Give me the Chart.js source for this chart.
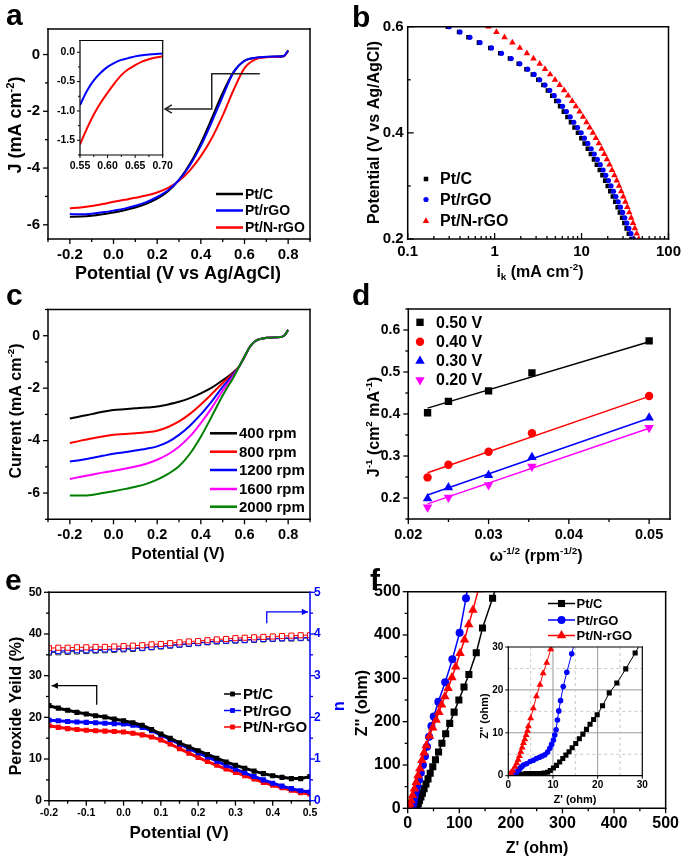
<!DOCTYPE html>
<html><head><meta charset="utf-8"><title>ORR performance of Pt/C, Pt/rGO and Pt/N-rGO</title>
<script src="https://cdn.jsdelivr.net/npm/chart.js@4.4.1/dist/chart.umd.min.js"></script>
<style>
html,body{margin:0;padding:0;background:#fff;}
#page{position:relative;width:685px;height:856px;overflow:hidden;background:#fff;}
#page canvas{position:absolute;left:0;top:0;}
</style></head><body>
<div id="page">
<canvas id="cA" width="685" height="856"></canvas>
<canvas id="cAin" width="685" height="856"></canvas>
<canvas id="cB" width="685" height="856"></canvas>
<canvas id="cC" width="685" height="856"></canvas>
<canvas id="cD" width="685" height="856"></canvas>
<canvas id="cE" width="685" height="856"></canvas>
<canvas id="cF" width="685" height="856"></canvas>
<canvas id="cFin" width="685" height="856"></canvas>
</div>
<script>
// ---------------- DATA ----------------
// (a) LSV curves
const aPotential = [-0.2,-0.15,-0.1,-0.05,0,0.05,0.1,0.15,0.2,0.25,0.3,0.35,0.4,0.45,0.5,0.55,0.6,0.65,0.7,0.75,0.78,0.8];
const aPtC    = [-5.72,-5.71,-5.68,-5.63,-5.57,-5.49,-5.39,-5.26,-5.08,-4.82,-4.42,-3.85,-3.12,-2.25,-1.35,-0.62,-0.22,-0.12,-0.09,-0.07,-0.05,0.12];
const aPtrGO  = [-5.62,-5.63,-5.61,-5.56,-5.50,-5.43,-5.33,-5.20,-5.02,-4.78,-4.42,-3.90,-3.22,-2.38,-1.48,-0.62,-0.22,-0.11,-0.08,-0.07,-0.05,0.15];
const aPtNrGO = [-5.42,-5.39,-5.34,-5.27,-5.19,-5.12,-5.05,-4.97,-4.86,-4.70,-4.45,-4.08,-3.58,-2.95,-2.15,-1.25,-0.48,-0.17,-0.10,-0.08,-0.06,0.15];
const aXTicks = [-0.2,0,0.2,0.4,0.6,0.8];
const aYTicks = [-6,-4,-2,0];
// (a) inset
const aInsetPotential = [0.55,0.5625,0.575,0.5875,0.6,0.6125,0.625,0.6375,0.65,0.6625,0.675,0.6875,0.70];
const aInsetPtrGO  = [-0.90,-0.66,-0.48,-0.35,-0.25,-0.18,-0.13,-0.10,-0.07,-0.05,-0.04,-0.03,-0.02];
const aInsetPtNrGO = [-1.57,-1.30,-1.06,-0.86,-0.69,-0.53,-0.39,-0.29,-0.22,-0.16,-0.12,-0.09,-0.07];
const aInsetXTicks = [0.55,0.60,0.65,0.70];
const aInsetYTicks = [-1.5,-1.0,-0.5,0];
// (b) Tafel-type plot
const bPotential = [0.60,0.59,0.58,0.57,0.56,0.55,0.54,0.53,0.52,0.51,0.50,0.49,0.48,0.47,0.46,0.45,0.44,0.43,0.42,0.41,0.40,0.39,0.38,0.37,0.36,0.35,0.34,0.33,0.32,0.31,0.30,0.29,0.28,0.27,0.26,0.25,0.24,0.23,0.22,0.21,0.20];
const bPtC    = [0.29,0.39,0.50,0.66,0.89,1.16,1.50,1.89,2.32,2.75,3.18,3.64,4.10,4.60,5.12,5.66,6.25,6.88,7.55,8.3,9.1,9.95,10.85,11.8,12.8,13.9,15.0,16.2,17.4,18.7,20.0,21.4,22.9,24.4,26.0,27.6,29.3,31.1,33.0,35.0,37.5];
const bPtrGO  = [0.30,0.40,0.52,0.68,0.92,1.20,1.55,1.95,2.40,2.85,3.30,3.80,4.30,4.85,5.45,6.05,6.70,7.40,8.15,9.0,9.9,10.8,11.8,12.9,14.0,15.2,16.4,17.7,19.0,20.4,21.8,23.3,24.8,26.4,28.0,29.7,31.4,33.2,35.0,37.0,39.5];
const bPtNrGO = [0.85,1.05,1.30,1.60,1.95,2.35,2.80,3.30,3.80,4.35,4.95,5.6,6.3,7.0,7.8,8.6,9.5,10.4,11.4,12.4,13.5,14.6,15.8,17.0,18.3,19.6,21.0,22.4,23.9,25.4,27.0,28.6,30.2,31.9,33.6,35.4,37.2,39.1,41.0,43.1,45.5];
const bXTicks = [0.1,1,10,100];
const bYTicks = [0.2,0.4,0.6];
// (c) RDE curves
const cPotential = [-0.2,-0.15,-0.1,-0.05,0,0.05,0.1,0.15,0.2,0.25,0.3,0.35,0.4,0.45,0.5,0.55,0.575,0.6,0.625,0.65,0.7,0.75,0.78,0.8];
const c400  = [-3.16,-3.07,-2.99,-2.90,-2.83,-2.80,-2.77,-2.74,-2.70,-2.62,-2.52,-2.38,-2.20,-1.98,-1.70,-1.38,-1.18,-0.80,-0.42,-0.20,-0.08,-0.06,-0.01,0.22];
const c800  = [-4.09,-4.00,-3.92,-3.84,-3.78,-3.75,-3.72,-3.68,-3.62,-3.48,-3.27,-2.98,-2.62,-2.22,-1.80,-1.42,-1.18,-0.80,-0.42,-0.20,-0.08,-0.06,-0.01,0.22];
const c1200 = [-4.80,-4.74,-4.66,-4.58,-4.50,-4.44,-4.38,-4.31,-4.22,-4.05,-3.78,-3.43,-3.00,-2.50,-1.95,-1.46,-1.18,-0.80,-0.42,-0.20,-0.08,-0.06,-0.01,0.22];
const c1600 = [-5.46,-5.38,-5.30,-5.22,-5.15,-5.07,-4.99,-4.88,-4.73,-4.52,-4.23,-3.84,-3.33,-2.75,-2.10,-1.52,-1.18,-0.80,-0.42,-0.20,-0.08,-0.06,-0.01,0.22];
const c2000 = [-6.09,-6.09,-6.07,-6.00,-5.93,-5.85,-5.76,-5.65,-5.49,-5.27,-4.98,-4.50,-3.85,-3.08,-2.28,-1.58,-1.18,-0.80,-0.42,-0.20,-0.08,-0.06,-0.01,0.22];
const cXTicks = [-0.2,0,0.2,0.4,0.6,0.8];
const cYTicks = [-6,-4,-2,0];
// (d) Koutecky-Levich
const dOmega = [0.0224,0.0250,0.0300,0.0354,0.0500];
const d050 = [0.403,0.430,0.455,0.498,0.574];
const d040 = [0.249,0.279,0.310,0.354,0.443];
const d030 = [0.199,0.225,0.254,0.297,0.391];
const d020 = [0.178,0.201,0.231,0.275,0.367];
const dFitOmega = [0.0224,0.0500];
const dFit050 = [0.414,0.572];
const dFit040 = [0.260,0.442];
const dFit030 = [0.207,0.390];
const dFit020 = [0.186,0.366];
const dXTicks = [0.02,0.03,0.04,0.05];
const dYTicks = [0.2,0.3,0.4,0.5,0.6];
// (e) RRDE: peroxide yield and electron number
const ePotential = [-0.2,-0.175,-0.15,-0.125,-0.1,-0.075,-0.05,-0.025,0,0.025,0.05,0.075,0.1,0.125,0.15,0.175,0.2,0.225,0.25,0.275,0.3,0.325,0.35,0.375,0.4,0.425,0.45,0.475,0.5];
const ePeroxPtC    = [22.8,22.2,21.7,21.2,20.8,20.4,20.1,19.6,19.2,18.7,18.1,17.1,16.0,15.0,13.9,12.9,12.0,11.1,10.2,9.3,8.5,7.8,7.1,6.5,6.0,5.6,5.3,5.3,5.8];
const ePeroxPtrGO  = [19.3,19.2,19.0,18.9,18.8,18.7,18.6,18.5,18.4,18.1,17.6,16.8,15.8,14.7,13.6,12.5,11.5,10.5,9.5,8.5,7.6,6.7,5.8,5.0,4.2,3.5,2.9,2.4,2.1];
const ePeroxPtNrGO = [18.0,17.6,17.3,17.1,16.9,16.8,16.7,16.6,16.5,16.2,15.8,15.3,14.6,13.6,12.5,11.4,10.4,9.4,8.5,7.6,6.8,6.0,5.2,4.4,3.7,3.1,2.5,1.9,1.6];
const eNPtC    = [3.55,3.56,3.57,3.58,3.59,3.60,3.61,3.62,3.63,3.64,3.66,3.68,3.70,3.72,3.74,3.76,3.78,3.80,3.82,3.83,3.84,3.85,3.86,3.87,3.88,3.89,3.89,3.90,3.90];
const eNPtrGO  = [3.58,3.59,3.60,3.61,3.61,3.62,3.63,3.64,3.65,3.66,3.67,3.69,3.71,3.73,3.75,3.77,3.79,3.81,3.83,3.84,3.85,3.86,3.87,3.88,3.89,3.90,3.91,3.91,3.92];
const eNPtNrGO = [3.66,3.67,3.67,3.68,3.68,3.69,3.69,3.70,3.71,3.72,3.73,3.75,3.76,3.78,3.80,3.82,3.83,3.85,3.87,3.88,3.90,3.91,3.92,3.93,3.94,3.95,3.96,3.97,3.97];
const eXTicks = [-0.2,-0.1,0,0.1,0.2,0.3,0.4,0.5];
const eYTicks = [0,10,20,30,40,50];
const eY2Ticks = [0,1,2,3,4,5];
// (f) Nyquist plots
const fPtCRe = [17,18.6,20.6,22.9,25.6,28.5,31.8,35.4,39.4,43.6,48.6,53.8,59.8,66.3,73.6,81.5,90.0,99.2,109.1,118.6,132.9,145,164.5,172.5];
const fPtCIm = [0,5,11,18,26,35,45,56,68,81,96,112,130,150,172,196,222,250,280,309,359,416,485,515];
const fPtrGORe = [6,8,9.5,10.5,11.5,12.6,14,16,19,22,25.5,29.5,33.5,37.5,41.5,46,50.5,59.4,72.7,86.6,100.6,113,117];
const fPtrGOIm = [0,3,6,10,15,22,30,40,52,66,82,100,120,142,165,190,212,246,291,344,405,485,515];
const fPtNrGORe = [1,2.5,4,6.5,9.5,13,16.5,20,23.5,27.5,31.5,36,42.3,48.5,55.1,60.5,65.7,72,78.4,85.7,93,101.5,110.1,118.3,126.5,137];
const fPtNrGOIm = [0,5,10,18,30,45,60,76,92,111,128,145,167,186,204,222,239,258,277,302,327,358,389,424,458,505];
const fTicks = [0,100,200,300,400,500];
// (f) inset
const fInPtCRe = [2,3,4,5,6,7,8,8.8,9.4,10.1,10.8,11.5,12.2,12.9,13.6,14.3,15.1,15.9,16.7,17.5,18.3,19.1,19.9,21.1,22.6,24.3,26.3,28.4,29.5];
const fInPtCIm = [0.3,0.4,0.5,0.5,0.5,0.5,0.6,0.8,1.2,1.8,2.4,3.2,4.0,4.8,5.6,6.5,7.5,8.6,9.7,10.8,12.0,13.1,14.2,16.3,19.3,21.6,24.9,28.6,30.6];
const fInPtrGORe = [0.5,1.1,1.5,1.9,2.3,2.6,3.0,3.4,4.1,4.9,5.6,6.3,7.0,7.6,8.2,8.8,9.3,9.7,10.1,10.4,10.7,11.0,11.3,11.7,12.3,13.1,14.2,14.8];
const fInPtrGOIm = [0.2,0.4,0.7,0.9,1.3,1.7,2.1,2.5,2.8,3.3,3.6,4.0,4.3,4.6,4.9,5.5,6.4,7.3,8.3,9.5,10.7,13.0,15.1,17.5,20.8,24.1,28.4,31.0];
const fInPtNrGORe = [0.2,0.6,1.0,1.5,1.9,2.2,2.5,2.8,3.1,3.4,3.7,4.0,4.3,4.5,5.0,5.6,6.3,7.1,7.8,8.6,9.5,9.9];
const fInPtNrGOIm = [0.3,0.7,1.2,2.1,2.9,3.7,4.6,5.6,6.6,7.6,8.5,9.5,10.5,11.5,13.4,15.7,18.5,21.2,23.9,26.3,29.5,31.0];
const fInTicks = [0,10,20,30];

// ---------------- HELPERS ----------------
const W = 685, H = 856, AX_W = 40, AX_H = 30;
const FONT = "'Liberation Sans', Arial, Helvetica, sans-serif";
const BLACK = '#000000', BLUE = '#0000ff', RED = '#ff0000', MAGENTA = '#ff00ff', GREEN = '#008000';
const fmt = d => v => Number(v).toFixed(d);
const fmtInt = v => String(v);

function ds(label, xs, ys, o) {
  const c = o.color;
  const base = {
    label, data: xs.map((x, i) => ({x, y: ys[i]})),
    showLine: true, borderColor: c, backgroundColor: c, borderWidth: 2,
    pointRadius: 0, pointStyle: 'circle', pointRotation: 0,
    pointBackgroundColor: c, pointBorderColor: c, pointBorderWidth: 0
  };
  const r = Object.assign(base, o); delete r.color; return r;
}

function marker(ctx, style, x, y, r, rot, fill, stroke, lw) {
  ctx.save(); ctx.beginPath();
  if (style === 'rect') { const h = r * Math.SQRT1_2; ctx.rect(x - h, y - h, 2 * h, 2 * h); }
  else if (style === 'triangle') {
    let ang = (rot || 0) * Math.PI / 180;
    ctx.moveTo(x + Math.sin(ang) * r, y - Math.cos(ang) * r);
    ang += 2 * Math.PI / 3; ctx.lineTo(x + Math.sin(ang) * r, y - Math.cos(ang) * r);
    ang += 2 * Math.PI / 3; ctx.lineTo(x + Math.sin(ang) * r, y - Math.cos(ang) * r);
    ctx.closePath();
  } else ctx.arc(x, y, r, 0, Math.PI * 2);
  if (fill) { ctx.fillStyle = fill; ctx.fill(); }
  if (stroke && lw) { ctx.strokeStyle = stroke; ctx.lineWidth = lw; ctx.stroke(); }
  ctx.restore();
}

function drawRich(ctx, t) {
  const size = t.size, wt = t.weight || 'bold';
  let total = 0;
  const segs = t.parts.map(p => {
    const mode = p[1] || 0, fs = mode ? size * 0.62 : size;
    ctx.font = wt + ' ' + fs + 'px ' + FONT;
    const w = ctx.measureText(p[0]).width; total += w;
    return {text: p[0], mode, fs, w};
  });
  ctx.save();
  ctx.translate(t.x, t.y);
  if (t.rot) ctx.rotate(t.rot * Math.PI / 180);
  ctx.fillStyle = t.color || '#000';
  ctx.textAlign = 'left'; ctx.textBaseline = 'alphabetic';
  let cx = t.baseline ? 0 : -total / 2;
  const base = t.baseline ? 0 : size * 0.36;
  segs.forEach(s => {
    ctx.font = wt + ' ' + s.fs + 'px ' + FONT;
    const dy = s.mode === 1 ? -size * 0.4 : (s.mode === -1 ? size * 0.22 : 0);
    ctx.fillText(s.text, cx, base + dy);
    cx += s.w;
  });
  ctx.restore();
}

function minorValues(s, majors, n, log) {
  const out = [];
  const lo = Math.min(s.min, s.max), hi = Math.max(s.min, s.max);
  if (log) {
    for (let e = Math.floor(Math.log10(lo)); e <= Math.ceil(Math.log10(hi)); e++)
      for (let k = 2; k <= 9; k++) { const v = k * Math.pow(10, e); if (v > lo && v < hi) out.push(v); }
    return out;
  }
  if (!n || majors.length < 2) return out;
  const step = (majors[1] - majors[0]) / (n + 1);
  for (let i = -400; i <= 400; i++) {
    const v = majors[0] + i * step;
    if (v < lo - step * 1e-6 || v > hi + step * 1e-6) continue;
    if (i % (n + 1) === 0) continue;
    out.push(v);
  }
  return out;
}

const originPlugin = {
  id: 'origin',
  beforeDatasetsDraw(chart, args, o) {
    const ctx = chart.ctx, a = chart.chartArea;
    ctx.save();
    if (o.bg) { ctx.fillStyle = o.bg; ctx.fillRect(a.left, a.top, a.right - a.left, a.bottom - a.top); }
    (o.grid || []).forEach(g => {
      const s = chart.scales[g.axis];
      ctx.strokeStyle = g.color; ctx.lineWidth = g.width || 1; ctx.setLineDash(g.dash || []);
      g.values.forEach(v => {
        const p = s.getPixelForValue(v);
        ctx.beginPath();
        if (s.isHorizontal()) { ctx.moveTo(p, a.top); ctx.lineTo(p, a.bottom); }
        else { ctx.moveTo(a.left, p); ctx.lineTo(a.right, p); }
        ctx.stroke();
      });
    });
    ctx.restore();
  },
  afterDatasetsDraw(chart, args, o) {
    const ctx = chart.ctx, a = chart.chartArea;
    ctx.save();
    ctx.setLineDash([]);
    if (o.frame) {
      const f = o.frame;
      ctx.lineWidth = f.width || 1.5; ctx.lineCap = 'square';
      const seg = (x1, y1, x2, y2, c) => { ctx.strokeStyle = c; ctx.beginPath(); ctx.moveTo(x1, y1); ctx.lineTo(x2, y2); ctx.stroke(); };
      seg(a.left, a.top, a.right, a.top, f.top || f.color);
      seg(a.left, a.bottom, a.right, a.bottom, f.color);
      seg(a.left, a.top, a.left, a.bottom, f.color);
      seg(a.right, a.top, a.right, a.bottom, f.right || f.color);
    }
    ctx.lineCap = 'butt';
    (o.axes || []).forEach(ax => {
      const s = chart.scales[ax.id];
      const majors = s.ticks.map(t => t.value);
      const out = ax.dir === 'in' ? -1 : 1;
      ctx.strokeStyle = ax.color || '#000'; ctx.lineWidth = ax.lw || 1.3;
      const tick = (v, len) => {
        const p = s.getPixelForValue(v);
        ctx.beginPath();
        if (ax.side === 'bottom') { ctx.moveTo(p, a.bottom); ctx.lineTo(p, a.bottom + out * len); }
        else if (ax.side === 'left') { ctx.moveTo(a.left, p); ctx.lineTo(a.left - out * len, p); }
        else { ctx.moveTo(a.right, p); ctx.lineTo(a.right + out * len, p); }
        ctx.stroke();
      };
      majors.forEach(v => tick(v, ax.len || 5));
      minorValues(s, majors, ax.minor, ax.log).forEach(v => tick(v, ax.mlen || 3));
    });
    (o.arrows || []).forEach(ar => {
      const sx = chart.scales[ar.xAxis || 'x'], sy = chart.scales[ar.yAxis || 'y'];
      const pts = ar.pts.map(p => [sx.getPixelForValue(p[0]), sy.getPixelForValue(p[1])]);
      ctx.strokeStyle = ar.color; ctx.fillStyle = ar.color; ctx.lineWidth = ar.width || 1.5;
      ctx.beginPath(); pts.forEach((p, i) => i ? ctx.lineTo(p[0], p[1]) : ctx.moveTo(p[0], p[1])); ctx.stroke();
      const [x2, y2] = pts[pts.length - 1], [x1, y1] = pts[pts.length - 2];
      const ang = Math.atan2(y2 - y1, x2 - x1), L = ar.head || 8, sp = ar.spread || 0.5;
      ctx.beginPath();
      ctx.moveTo(x2 - L * Math.cos(ang - sp), y2 - L * Math.sin(ang - sp));
      ctx.lineTo(x2, y2);
      ctx.lineTo(x2 - L * Math.cos(ang + sp), y2 - L * Math.sin(ang + sp));
      if (ar.filled) { ctx.closePath(); ctx.fill(); } else ctx.stroke();
    });
    if (o.legend) {
      const L = o.legend;
      L.items.forEach((idx, i) => {
        const d = chart.data.datasets[idx], y = L.ys[i];
        if (L.line) {
          ctx.strokeStyle = d.borderColor; ctx.lineWidth = L.lw || d.borderWidth;
          ctx.beginPath(); ctx.moveTo(L.line[0], y); ctx.lineTo(L.line[1], y); ctx.stroke();
        }
        if (L.markerX != null) marker(ctx, d.pointStyle, L.markerX, y, L.mr || d.pointRadius, d.pointRotation, d.pointBackgroundColor, d.pointBorderColor, d.pointBorderWidth);
        ctx.fillStyle = '#000';
        ctx.font = (L.weight || 'bold') + ' ' + L.size + 'px ' + FONT;
        ctx.textAlign = 'left'; ctx.textBaseline = 'middle';
        ctx.fillText(d.label, L.textX, y + 1);
      });
    }
    (o.texts || []).forEach(t => drawRich(ctx, t));
    ctx.restore();
  }
};

function axisCfg(a, pos) {
  return {
    type: a.type || 'linear', position: pos, min: a.min, max: a.max,
    afterFit: s => { if (pos === 'bottom') s.height = AX_H; else s.width = AX_W; },
    afterBuildTicks: s => { s.ticks = a.ticks.map(v => ({value: v})); },
    grid: {display: false, drawTicks: false},
    border: {display: false},
    ticks: {
      autoSkip: false, maxRotation: 0, minRotation: 0, padding: a.pad,
      color: a.color || '#000', font: {family: FONT, size: a.fs, weight: 'bold'},
      callback: a.fmt
    }
  };
}

function build(id, spec) {
  const scales = {x: axisCfg(spec.x, 'bottom'), y: axisCfg(spec.y, 'left')};
  if (spec.y2) scales.y2 = axisCfg(spec.y2, 'right');
  // first dataset in the list is painted first (bottom), last one on top
  spec.datasets.forEach((d, i, arr) => { d.order = arr.length - i; });
  const A = spec.area;
  return new Chart(document.getElementById(id), {
    type: 'scatter',
    data: {datasets: spec.datasets},
    options: {
      responsive: false, maintainAspectRatio: false, animation: false, devicePixelRatio: 1, events: [],
      layout: {autoPadding: false, padding: {left: A.l - AX_W, top: A.t, right: W - A.r - (spec.y2 ? AX_W : 0), bottom: H - A.b - AX_H}},
      scales,
      plugins: {legend: {display: false}, tooltip: {enabled: false}, title: {display: false}, origin: spec.origin}
    },
    plugins: [originPlugin]
  });
}

const smooth = {cubicInterpolationMode: 'monotone'};

// ---------------- (a) ----------------
build('cA', {
  area: {l: 48, t: 29, r: 310, b: 239},
  x: {min: -0.3, max: 0.9, ticks: aXTicks, fs: 15, pad: 7, fmt: fmt(1)},
  y: {min: -6.5, max: 0.9, ticks: aYTicks, fs: 15, pad: 8, fmt: fmtInt},
  datasets: [
    ds('Pt/C', aPotential, aPtC, Object.assign({color: BLACK}, smooth)),
    ds('Pt/N-rGO', aPotential, aPtNrGO, Object.assign({color: RED}, smooth)),
    ds('Pt/rGO', aPotential, aPtrGO, Object.assign({color: BLUE}, smooth))
  ],
  origin: {
    frame: {color: BLACK, width: 1.5},
    axes: [{id: 'x', side: 'bottom', minor: 1}, {id: 'y', side: 'left', minor: 1}],
    legend: {items: [0, 2, 1], ys: [194, 210.5, 227.5], line: [216, 243], lw: 2.5, textX: 245, size: 14},
    arrows: [{pts: [[0.67, -0.68], [0.45, -0.68], [0.45, -1.92], [0.236, -1.92]], color: '#222', width: 1.5, head: 8, spread: 0.55}],
    texts: [
      {parts: [['a']], x: 6, y: 25, size: 30, baseline: true},
      {parts: [['Potential (V vs Ag/AgCl)']], x: 178, y: 273, size: 18},
      {parts: [['J (mA cm'], ['-2', 1], [')']], x: 15, y: 125, size: 18, rot: -90}
    ]
  }
});
build('cAin', {
  area: {l: 80, t: 40.5, r: 162.7, b: 155},
  x: {min: 0.55, max: 0.70, ticks: aInsetXTicks, fs: 10.5, pad: 5, fmt: fmt(2)},
  y: {min: -1.75, max: 0.2, ticks: aInsetYTicks, fs: 10.5, pad: 5, fmt: fmt(1)},
  datasets: [
    ds('Pt/N-rGO', aInsetPotential, aInsetPtNrGO, Object.assign({color: RED}, smooth)),
    ds('Pt/rGO', aInsetPotential, aInsetPtrGO, Object.assign({color: BLUE}, smooth))
  ],
  origin: {
    bg: '#ffffff',
    frame: {color: BLACK, width: 1.2},
    axes: [{id: 'x', side: 'bottom', minor: 1, len: 3, mlen: 2, lw: 1}, {id: 'y', side: 'left', minor: 1, len: 3, mlen: 2, lw: 1}]
  }
});

// ---------------- (b) ----------------
build('cB', {
  area: {l: 407.7, t: 26.7, r: 671.7, b: 239},
  x: {type: 'logarithmic', min: 0.1, max: 100, ticks: bXTicks, fs: 15, pad: 4, fmt: fmtInt},
  y: {min: 0.2, max: 0.6, ticks: bYTicks, fs: 15, pad: 4, fmt: fmt(1)},
  datasets: [
    ds('Pt/C', bPtC, bPotential, {color: BLACK, showLine: false, pointStyle: 'rect', pointRadius: 3.2}),
    ds('Pt/rGO', bPtrGO, bPotential, {color: BLUE, showLine: false, pointStyle: 'circle', pointRadius: 2.6}),
    ds('Pt/N-rGO', bPtNrGO, bPotential, {color: RED, showLine: false, pointStyle: 'triangle', pointRadius: 3.8})
  ],
  origin: {
    frame: {color: BLACK, width: 1.5},
    axes: [{id: 'x', side: 'bottom', log: true, dir: 'in', len: 6, mlen: 3}, {id: 'y', side: 'left', minor: 1, dir: 'in', len: 6, mlen: 3}],
    legend: {items: [0, 1, 2], ys: [179, 199.5, 221], markerX: 426, textX: 440, size: 16},
    texts: [
      {parts: [['b']], x: 352, y: 27, size: 30, baseline: true},
      {parts: [['Potential (V vs Ag/AgCl)']], x: 373, y: 132.5, size: 16, rot: -90},
      {parts: [['i'], ['k', -1], [' (mA cm'], ['-2', 1], [')']], x: 540, y: 271, size: 16}
    ]
  }
});

// ---------------- (c) ----------------
build('cC', {
  area: {l: 48, t: 309.5, r: 310, b: 519.3},
  x: {min: -0.3, max: 0.9, ticks: cXTicks, fs: 14.5, pad: 7, fmt: fmt(1)},
  y: {min: -7, max: 1, ticks: cYTicks, fs: 14, pad: 8, fmt: fmtInt},
  datasets: [
    ds('400 rpm', cPotential, c400, Object.assign({color: BLACK}, smooth)),
    ds('800 rpm', cPotential, c800, Object.assign({color: RED}, smooth)),
    ds('1200 rpm', cPotential, c1200, Object.assign({color: BLUE}, smooth)),
    ds('1600 rpm', cPotential, c1600, Object.assign({color: MAGENTA}, smooth)),
    ds('2000 rpm', cPotential, c2000, Object.assign({color: GREEN}, smooth))
  ],
  origin: {
    frame: {color: BLACK, width: 1.5},
    axes: [{id: 'x', side: 'bottom', minor: 1}, {id: 'y', side: 'left', minor: 1}],
    legend: {items: [0, 1, 2, 3, 4], ys: [433.3, 451.7, 470, 489, 506.7], line: [210, 237], lw: 2.5, textX: 239, size: 15},
    texts: [
      {parts: [['c']], x: 6, y: 305, size: 30, baseline: true},
      {parts: [['Potential (V)']], x: 178, y: 553, size: 16},
      {parts: [['Current (mA cm'], ['-2', 1], [')']], x: 15, y: 411, size: 16, rot: -90}
    ]
  }
});

// ---------------- (d) ----------------
build('cD', {
  area: {l: 408.3, t: 309, r: 670, b: 519},
  x: {min: 0.02, max: 0.0526, ticks: dXTicks, fs: 14.5, pad: 7, fmt: fmt(2)},
  y: {min: 0.15, max: 0.65, ticks: dYTicks, fs: 14, pad: 8, fmt: fmt(1)},
  datasets: [
    ds('0.50 V fit', dFitOmega, dFit050, {color: BLACK, borderWidth: 1.5}),
    ds('0.40 V fit', dFitOmega, dFit040, {color: RED, borderWidth: 1.5}),
    ds('0.30 V fit', dFitOmega, dFit030, {color: BLUE, borderWidth: 1.5}),
    ds('0.20 V fit', dFitOmega, dFit020, {color: MAGENTA, borderWidth: 1.5}),
    ds('0.50 V', dOmega, d050, {color: BLACK, showLine: false, pointStyle: 'rect', pointRadius: 5.2}),
    ds('0.40 V', dOmega, d040, {color: RED, showLine: false, pointStyle: 'circle', pointRadius: 4.2}),
    ds('0.30 V', dOmega, d030, {color: BLUE, showLine: false, pointStyle: 'triangle', pointRadius: 5.5}),
    ds('0.20 V', dOmega, d020, {color: MAGENTA, showLine: false, pointStyle: 'triangle', pointRotation: 180, pointRadius: 5.5})
  ],
  origin: {
    frame: {color: BLACK, width: 1.5},
    axes: [{id: 'x', side: 'bottom', minor: 1}, {id: 'y', side: 'left', minor: 1}],
    legend: {items: [4, 5, 6, 7], ys: [322.3, 341.7, 361, 380], markerX: 420, textX: 436, size: 16},
    texts: [
      {parts: [['d']], x: 352, y: 305, size: 30, baseline: true},
      {parts: [['\u03c9'], ['-1/2', 1], [' (rpm'], ['-1/2', 1], [')']], x: 536, y: 555, size: 16},
      {parts: [['J'], ['-1', 1], [' (cm'], ['2', 1], [' mA'], ['-1', 1], [')']], x: 373, y: 427, size: 16, rot: -90}
    ]
  }
});

// ---------------- (e) ----------------
const peroxOpt = c => ({color: c, borderWidth: 3, pointStyle: 'rect', pointRadius: 3.6});
const nOpt = c => ({color: c, borderWidth: 1, pointStyle: 'rect', pointRadius: 3.6, pointBackgroundColor: '#ffffff', pointBorderWidth: 1, yAxisID: 'y2'});
build('cE', {
  area: {l: 49, t: 592.3, r: 310, b: 800.7},
  x: {min: -0.2, max: 0.5, ticks: eXTicks, fs: 10.5, pad: 6, fmt: fmt(1)},
  y: {min: 0, max: 50, ticks: eYTicks, fs: 12, pad: 7, fmt: fmtInt},
  y2: {min: 0, max: 5, ticks: eY2Ticks, fs: 12, pad: 4, fmt: fmtInt, color: BLUE},
  datasets: [
    ds('Pt/C n', ePotential, eNPtC, nOpt('#333333')),
    ds('Pt/rGO n', ePotential, eNPtrGO, nOpt(BLUE)),
    ds('Pt/N-rGO n', ePotential, eNPtNrGO, nOpt(RED)),
    ds('Pt/N-rGO', ePotential, ePeroxPtNrGO, peroxOpt(RED)),
    ds('Pt/rGO', ePotential, ePeroxPtrGO, peroxOpt(BLUE)),
    ds('Pt/C', ePotential, ePeroxPtC, peroxOpt(BLACK))
  ],
  origin: {
    frame: {color: BLACK, width: 1.5, right: BLUE},
    axes: [{id: 'x', side: 'bottom', minor: 1}, {id: 'y', side: 'left', minor: 1}, {id: 'y2', side: 'right', minor: 1, color: BLUE}],
    legend: {items: [5, 4, 3], ys: [694, 710.5, 727], line: [224, 241], lw: 1.5, markerX: 232.5, mr: 3.4, textX: 243, size: 15},
    arrows: [
      {pts: [[-0.072, 23], [-0.072, 27.6], [-0.193, 27.6]], color: BLACK, width: 1.3, head: 7, spread: 0.45, filled: true},
      {pts: [[0.384, 4.26], [0.384, 4.53], [0.495, 4.53]], xAxis: 'x', yAxis: 'y2', color: BLUE, width: 1.3, head: 7, spread: 0.45, filled: true}
    ],
    texts: [
      {parts: [['e']], x: 5, y: 590, size: 30, baseline: true},
      {parts: [['Potential (V)']], x: 179, y: 832, size: 17},
      {parts: [['Peroxide Yeild (%)']], x: 15, y: 706, size: 16, rot: -90},
      {parts: [['n']], x: 338, y: 706, size: 16, rot: -90, color: BLUE}
    ]
  }
});

// ---------------- (f) ----------------
build('cF', {
  area: {l: 407.7, t: 591.7, r: 671, b: 808.3},
  x: {min: 0, max: 500, ticks: fTicks, fs: 16, pad: 6, fmt: fmtInt},
  y: {min: 0, max: 500, ticks: fTicks, fs: 16, pad: 7, fmt: fmtInt},
  datasets: [
    ds('Pt/C', fPtCRe, fPtCIm, {color: BLACK, borderWidth: 1.5, pointStyle: 'rect', pointRadius: 5}),
    ds('Pt/rGO', fPtrGORe, fPtrGOIm, {color: BLUE, borderWidth: 1.5, pointStyle: 'circle', pointRadius: 4}),
    ds('Pt/N-rGO', fPtNrGORe, fPtNrGOIm, {color: RED, borderWidth: 1.5, pointStyle: 'triangle', pointRadius: 5.5})
  ],
  origin: {
    frame: {color: BLACK, width: 1.5},
    axes: [{id: 'x', side: 'bottom', minor: 1}, {id: 'y', side: 'left', minor: 1}],
    legend: {items: [0, 1, 2], ys: [603.5, 620, 635.5], line: [548, 575], lw: 1.5, markerX: 561.5, textX: 576.5, size: 13},
    texts: [
      {parts: [['f']], x: 370, y: 590, size: 30, baseline: true},
      {parts: [["Z' (ohm)"]], x: 537, y: 847, size: 16},
      {parts: [["Z'' (ohm)"]], x: 361, y: 703, size: 16, rot: -90}
    ]
  }
});
build('cFin', {
  area: {l: 508.3, t: 647, r: 642.3, b: 775.7},
  x: {min: 0, max: 30, ticks: fInTicks, fs: 10, pad: 4, fmt: fmtInt},
  y: {min: 0, max: 30, ticks: fInTicks, fs: 10, pad: 5, fmt: fmtInt},
  datasets: [
    ds('Pt/C', fInPtCRe, fInPtCIm, {color: BLACK, borderWidth: 1, pointStyle: 'rect', pointRadius: 3.6}),
    ds('Pt/rGO', fInPtrGORe, fInPtrGOIm, {color: BLUE, borderWidth: 1, pointStyle: 'circle', pointRadius: 2.8}),
    ds('Pt/N-rGO', fInPtNrGORe, fInPtNrGOIm, {color: RED, borderWidth: 1, pointStyle: 'triangle', pointRadius: 4})
  ],
  origin: {
    bg: '#ffffff',
    grid: [
      {axis: 'x', values: [10, 20], color: '#9a9a9a', width: 1},
      {axis: 'y', values: [10, 20], color: '#9a9a9a', width: 1},
      {axis: 'x', values: [5, 15, 25], color: '#c8c8c8', width: 1, dash: [3, 3]},
      {axis: 'y', values: [5, 15, 25], color: '#c8c8c8', width: 1, dash: [3, 3]}
    ],
    frame: {color: BLACK, width: 1.2},
    axes: [{id: 'x', side: 'bottom', len: 3, lw: 1}, {id: 'y', side: 'left', len: 3, lw: 1}],
    texts: [
      {parts: [["Z' (ohm)"]], x: 575, y: 799, size: 11},
      {parts: [["Z'' (ohm)"]], x: 484, y: 716, size: 11, rot: -90}
    ]
  }
});
</script>
</body></html>
